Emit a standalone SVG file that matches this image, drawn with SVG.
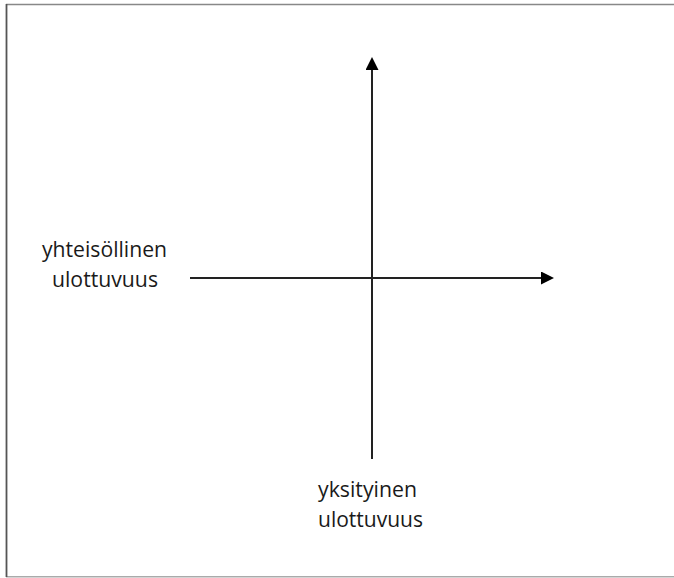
<svg xmlns="http://www.w3.org/2000/svg" width="674" height="578" viewBox="0 0 674 578">
<style>
.lbl{font-family:"Open Sans","Noto Sans","Liberation Sans",sans-serif;font-size:21px;fill:#1a1a1a}
.ax{stroke:#222;stroke-width:2;fill:none}
</style>
<defs>
<marker id="ah" markerWidth="13" markerHeight="13" refX="0" refY="6.5" orient="auto" markerUnits="userSpaceOnUse">
<path d="M0,0 L13,6.5 L0,13 Z" fill="#000"/>
</marker>
</defs>
<rect width="674" height="578" fill="#fff"/>
<g id="frame">
<line x1="6" y1="4.5" x2="674" y2="4.5" stroke="#888" stroke-width="1.5"/>
<line x1="6" y1="576.8" x2="674" y2="576.8" stroke="#aaa" stroke-width="1.5"/>
<line x1="6.5" y1="4" x2="6.5" y2="577" stroke="#555" stroke-width="1.8"/>
</g>
<g id="connectors">
<line class="ax" x1="372" y1="459" x2="372" y2="70" marker-end="url(#ah)"/>
<line class="ax" x1="190" y1="278" x2="541" y2="278" marker-end="url(#ah)"/>
</g>
<g id="node-yhteisollinen">
<text class="lbl" x="42" y="257" textLength="125" lengthAdjust="spacingAndGlyphs">yhteisöllinen</text>
<text class="lbl" x="52" y="287" textLength="106" lengthAdjust="spacingAndGlyphs">ulottuvuus</text>
</g>
<g id="node-yksityinen">
<text class="lbl" x="318" y="497" textLength="99" lengthAdjust="spacingAndGlyphs">yksityinen</text>
<text class="lbl" x="318" y="527" textLength="105" lengthAdjust="spacingAndGlyphs">ulottuvuus</text>
</g>
</svg>
